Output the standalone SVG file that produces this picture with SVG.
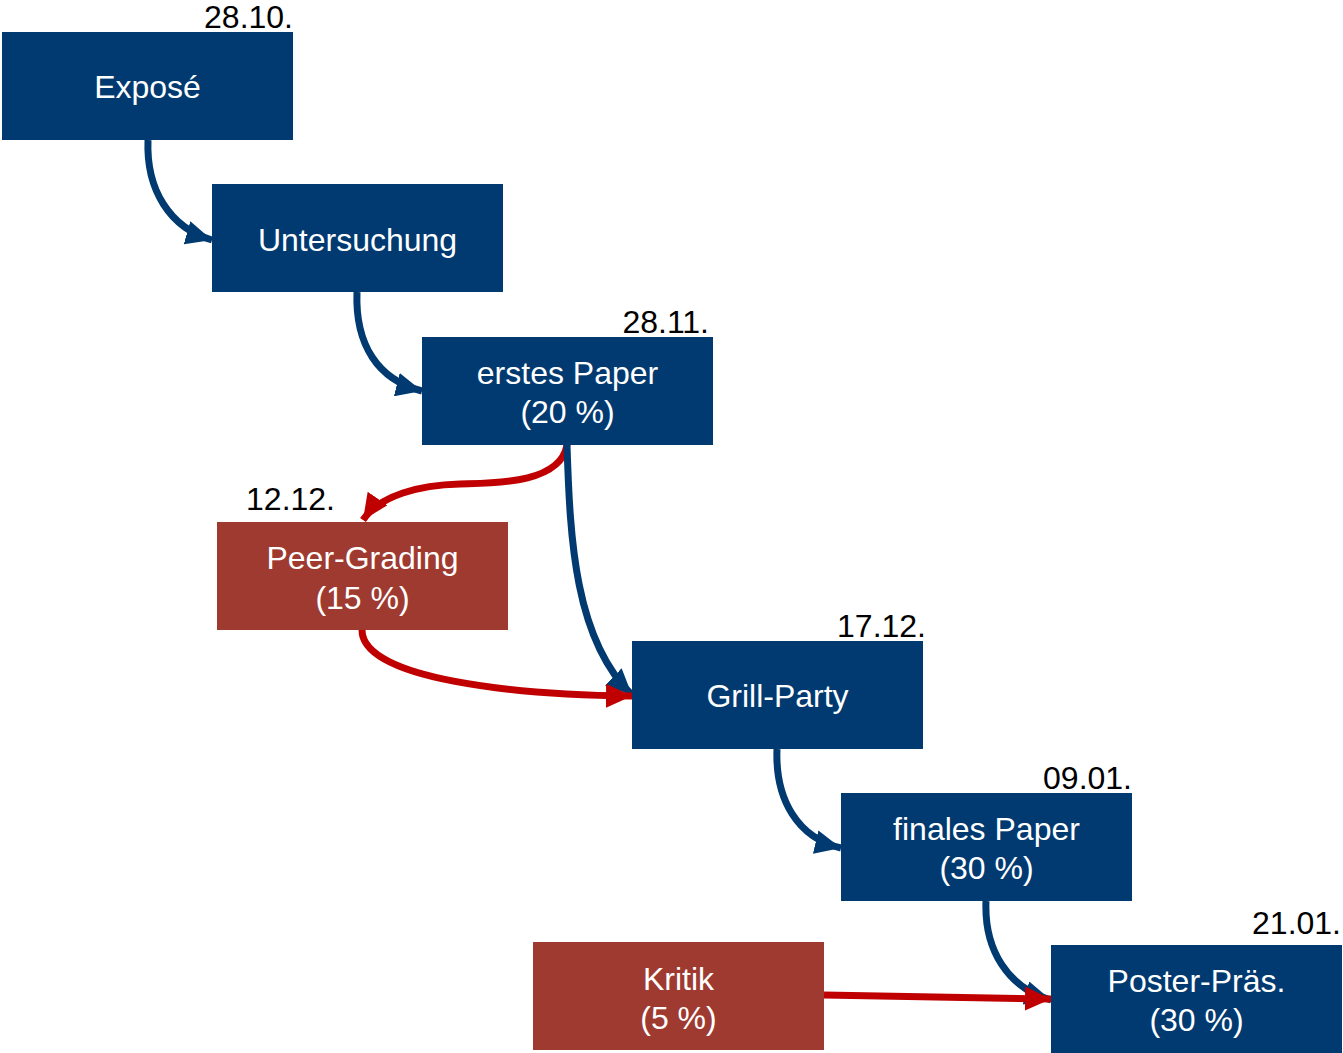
<svg xmlns="http://www.w3.org/2000/svg" width="1343" height="1053" viewBox="0 0 1343 1053">
<defs>
<style>
.b{fill:#003A70}
.r{fill:#9E3A30}
.t{font-family:"Liberation Sans",Arial,sans-serif;font-size:32px;fill:#fff;text-anchor:middle}
.d{font-family:"Liberation Sans",Arial,sans-serif;font-size:32px;fill:#000;text-anchor:end}
.cb{fill:none;stroke:#003A70;stroke-width:7}
.cr{fill:none;stroke:#C00000;stroke-width:7}
</style>
<marker id="ab" viewBox="0 0 26 24" refX="26" refY="12" markerWidth="26" markerHeight="24" markerUnits="userSpaceOnUse" orient="auto"><path d="M0,0 L26,12 L0,24 Z" fill="#003A70"/></marker>
<marker id="ar" viewBox="0 0 26 24" refX="26" refY="12" markerWidth="26" markerHeight="24" markerUnits="userSpaceOnUse" orient="auto"><path d="M0,0 L26,12 L0,24 Z" fill="#C00000"/></marker>
</defs>
<g id="connectors">
<path class="cb" d="M148,140 C146,190 170,228 212,240" marker-end="url(#ab)"/>
<path class="cb" d="M357,292 C355,345 378,380 422,391" marker-end="url(#ab)"/>
<path class="cr" d="M567,445 C560,485 490,483 460,484 C420,485 380,495 363,520" marker-end="url(#ar)"/>
<path class="cb" d="M567,445 C570,540 575,640 632,695" marker-end="url(#ab)"/>
<path class="cr" d="M362,630 C362,680 520,695 632,696" marker-end="url(#ar)"/>
<path class="cb" d="M777,749 C775,800 798,838 841,848" marker-end="url(#ab)"/>
<path class="cb" d="M986,901 C984,950 1008,988 1051,1000" marker-end="url(#ab)"/>
<path class="cr" d="M824,995 L1051,999" marker-end="url(#ar)"/>
</g>
<g id="expose"><rect class="b" x="2" y="32" width="291" height="108"/><text class="t" x="147.5" y="98">Exposé</text><text class="d" x="293" y="28">28.10.</text></g>
<g id="untersuchung"><rect class="b" x="212" y="184" width="291" height="108"/><text class="t" x="357.5" y="251">Untersuchung</text></g>
<g id="erstes-paper"><rect class="b" x="422" y="337" width="291" height="108"/><text class="t" x="567.5" y="384">erstes Paper</text><text class="t" x="567.5" y="423">(20 %)</text><text class="d" x="709" y="333">28.11.</text></g>
<g id="peer-grading"><rect class="r" x="217" y="522" width="291" height="108"/><text class="t" x="362.5" y="569">Peer-Grading</text><text class="t" x="362.5" y="609">(15 %)</text><text class="d" x="335" y="510">12.12.</text></g>
<g id="grill-party"><rect class="b" x="632" y="641" width="291" height="108"/><text class="t" x="777.5" y="707">Grill-Party</text><text class="d" x="926" y="637">17.12.</text></g>
<g id="finales-paper"><rect class="b" x="841" y="793" width="291" height="108"/><text class="t" x="986.5" y="840">finales Paper</text><text class="t" x="986.5" y="879">(30 %)</text><text class="d" x="1132" y="789">09.01.</text></g>
<g id="kritik"><rect class="r" x="533" y="942" width="291" height="108"/><text class="t" x="678.5" y="990">Kritik</text><text class="t" x="678.5" y="1029">(5 %)</text></g>
<g id="poster"><rect class="b" x="1051" y="945" width="291" height="108"/><text class="t" x="1196.5" y="992">Poster-Präs.</text><text class="t" x="1196.5" y="1031">(30 %)</text><text class="d" x="1341" y="934">21.01.</text></g>
</svg>
